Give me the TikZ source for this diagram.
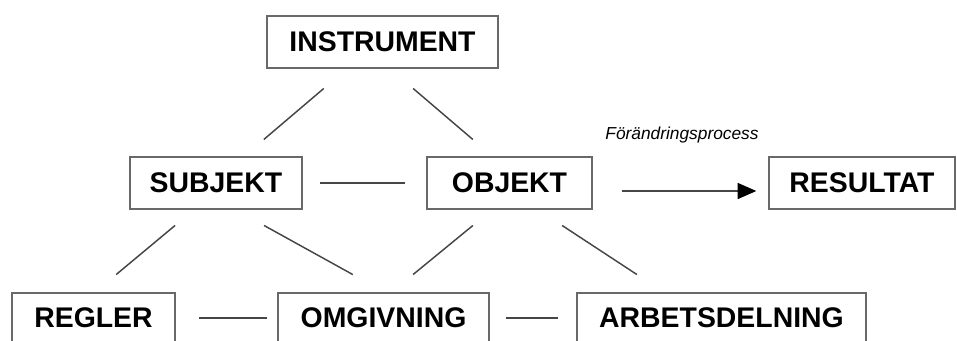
\documentclass[tikz,border=0pt]{standalone}
\usepackage{fontspec}
\setmainfont{Liberation Sans}
\usetikzlibrary{arrows.meta,calc}

\tikzset{every picture/.style={line width=0.75pt}}
\tikzset{
  rbox/.style={draw={rgb, 255:red, 105; green, 105; blue, 105}, line width=1pt, inner sep=0pt,
    minimum height=39pt, font=\fontsize{21.3}{25}\selectfont\bfseries},
  rline/.style={draw={rgb, 255:red, 70; green, 70; blue, 70}, line width=1.1pt}
}

\begin{document}
\begin{tikzpicture}[x=0.75pt,y=0.75pt,yscale=-1,xscale=1]
\useasboundingbox (0,0) rectangle (957,340);

% Boxes
\node [rbox, minimum width=173.25pt] (instrument) at (382.5,42) {INSTRUMENT};
\node [rbox, minimum width=129pt] (subjekt) at (216,183) {SUBJEKT};
\node [rbox, minimum width=123.75pt] (objekt) at (509.5,183) {OBJEKT};
\node [rbox, minimum width=139.5pt] (resultat) at (862,183) {RESULTAT};
\node [rbox, minimum width=122.25pt, minimum height=37.5pt] (regler) at (93.5,318) {REGLER};
\node [rbox, minimum width=158.25pt, minimum height=37.5pt] (omgivning) at (383.5,318) {OMGIVNING};
\node [rbox, minimum width=216.75pt, minimum height=37.5pt] (arbetsdelning) at (721.5,318) {ARBETSDELNING};

% Text Node
\node [font=\fontsize{13}{15}\selectfont\itshape] (process) at (682,135) {Förändringsprocess};

% Top triangle
\draw [rline, shorten <=22.9pt, shorten >=19.5pt] ([xshift=-26.6pt]instrument.south) -- ([xshift=21pt]subjekt.north);
\draw [rline, shorten <=22.9pt, shorten >=19.5pt] ([xshift=5.6pt]instrument.south) -- ([xshift=-12.7pt]objekt.north);
\draw [rline, shorten <=12.75pt, shorten >=15.75pt] (subjekt.east) -- (objekt.west);

% Arrow to result
\draw [rline, shorten <=21.75pt, shorten >=9pt, -{Triangle[length=14pt,width=12pt,color=black]}]
  ($(objekt.east)!0.3!(objekt.south east)$) -- ($(resultat.west)!0.3!(resultat.south west)$);

% Lower links
\draw [rline, shorten <=18.5pt, shorten >=20.9pt] ([xshift=-16.5pt]subjekt.south) -- ([xshift=1pt]regler.north);
\draw [rline, shorten <=24.5pt, shorten >=27.6pt] ([xshift=14.6pt]subjekt.south) -- ([xshift=1.1pt]omgivning.north);
\draw [rline, shorten <=18.7pt, shorten >=21.1pt] ([xshift=-13pt]objekt.south) -- ([xshift=5.9pt]omgivning.north);
\draw [rline, shorten <=21.6pt, shorten >=24.3pt] ([xshift=21.4pt]objekt.south) -- ([xshift=-43.1pt]arbetsdelning.north);

% Bottom row
\draw [rline, shorten <=17.25pt, shorten >=7.5pt] (regler.east) -- (omgivning.west);
\draw [rline, shorten <=12pt, shorten >=13.5pt] (omgivning.east) -- (arbetsdelning.west);

\end{tikzpicture}
\end{document}
